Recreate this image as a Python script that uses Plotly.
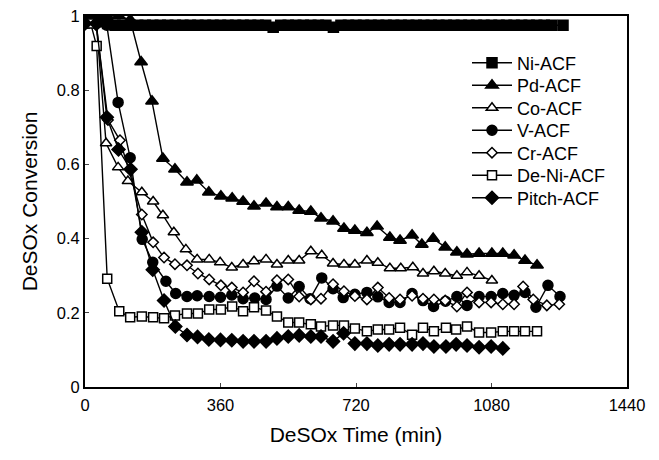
import plotly.graph_objects as go

# ---- data ----
ni_x = [0, 10, 20, 30, 40, 50, 60, 80, 100, 120, 140, 160, 180, 200, 220, 240, 260, 280, 300, 320,
        340, 360, 380, 400, 420, 440, 460, 480, 500, 520, 540, 560, 580, 600, 620, 640, 660, 680,
        700, 720, 740, 760, 780, 800, 820, 840, 860, 880, 900, 920, 940, 960, 980, 1000, 1020,
        1040, 1060, 1080, 1100, 1120, 1140, 1160, 1180, 1200, 1220, 1240, 1270]
ni_y = [0.99, 0.99, 0.99, 0.99, 0.985, 0.985, 0.98, 0.975, 0.975, 0.975, 0.975, 0.975, 0.975, 0.975,
        0.975, 0.975, 0.975, 0.975, 0.975, 0.975, 0.975, 0.975, 0.975, 0.975, 0.975, 0.975, 0.975,
        0.975, 0.97, 0.975, 0.975, 0.975, 0.975, 0.975, 0.975, 0.975, 0.97, 0.975, 0.975, 0.975,
        0.975, 0.975, 0.975, 0.975, 0.975, 0.975, 0.975, 0.975, 0.975, 0.975, 0.975, 0.975, 0.975,
        0.975, 0.975, 0.975, 0.975, 0.975, 0.975, 0.975, 0.975, 0.975, 0.975, 0.975, 0.975, 0.975,
        0.975]

pd_x = [0, 30, 58, 90, 120, 149, 178, 207, 239, 271, 297, 329, 361, 391, 420, 449, 481, 510, 540,
        569, 600, 627, 659, 688, 717, 749, 776, 810, 837, 869, 895, 925, 957, 988, 1015, 1047,
        1081, 1110, 1140, 1169, 1201]
pd_y = [0.98, 0.99, 1.0, 1.0, 0.99, 0.876, 0.77, 0.616, 0.587, 0.552, 0.557, 0.525, 0.514, 0.509,
        0.50, 0.487, 0.495, 0.485, 0.485, 0.476, 0.473, 0.455, 0.447, 0.427, 0.422, 0.416, 0.433,
        0.403, 0.395, 0.409, 0.384, 0.400, 0.377, 0.363, 0.358, 0.360, 0.360, 0.360, 0.355, 0.341,
        0.328]

co_x = [0, 30, 56, 88, 114, 151, 181, 207, 236, 268, 298, 330, 359, 390, 420, 449, 481, 510, 540,
        569, 600, 629, 659, 688, 717, 749, 778, 810, 839, 871, 898, 927, 957, 988, 1015, 1047, 1081]
co_y = [0.98, 0.98, 0.657, 0.592, 0.555, 0.525, 0.50, 0.463, 0.417, 0.371, 0.344, 0.344, 0.336,
        0.322, 0.330, 0.339, 0.344, 0.330, 0.341, 0.341, 0.366, 0.355, 0.333, 0.330, 0.330, 0.341,
        0.335, 0.320, 0.320, 0.323, 0.306, 0.312, 0.306, 0.300, 0.309, 0.300, 0.287]

v_x = [0, 30, 58, 88, 120, 152, 180, 215, 241, 271, 298, 330, 360, 390, 420, 451, 481, 510, 540,
       569, 598, 629, 659, 686, 717, 749, 778, 808, 837, 869, 898, 926, 958, 988, 1015, 1047, 1079,
       1110, 1140, 1169, 1198, 1230, 1262]
v_y = [0.98, 0.98, 0.975, 0.767, 0.618, 0.398, 0.336, 0.285, 0.252, 0.244, 0.246, 0.244, 0.242,
       0.248, 0.238, 0.240, 0.236, 0.272, 0.240, 0.271, 0.238, 0.294, 0.265, 0.241, 0.250, 0.255,
       0.243, 0.228, 0.228, 0.252, 0.233, 0.217, 0.231, 0.244, 0.220, 0.244, 0.244, 0.252, 0.247,
       0.255, 0.215, 0.274, 0.244]

cr_x = [0, 30, 61, 93, 151, 181, 210, 239, 271, 300, 330, 361, 390, 420, 449, 481, 510, 540, 569,
        600, 627, 659, 688, 717, 749, 778, 808, 837, 869, 898, 927, 957, 988, 1015, 1047, 1079,
        1110, 1140, 1164, 1191, 1227, 1260]
cr_y = [0.98, 0.975, 0.72, 0.665, 0.465, 0.39, 0.349, 0.331, 0.328, 0.306, 0.290, 0.274, 0.268,
        0.255, 0.285, 0.257, 0.288, 0.290, 0.244, 0.236, 0.238, 0.277, 0.258, 0.245, 0.236, 0.268,
        0.240, 0.236, 0.246, 0.238, 0.236, 0.233, 0.217, 0.255, 0.228, 0.228, 0.223, 0.223, 0.271,
        0.236, 0.220, 0.223]

deni_x = [0, 15, 31, 59, 91, 120, 151, 181, 210, 239, 271, 300, 330, 361, 391, 420, 449, 481, 510,
          540, 569, 600, 627, 659, 688, 717, 749, 778, 808, 837, 869, 898, 927, 959, 986, 1015,
          1047, 1079, 1110, 1140, 1169, 1201]
deni_y = [0.98, 0.98, 0.919, 0.292, 0.204, 0.188, 0.190, 0.188, 0.185, 0.193, 0.198, 0.198, 0.209,
          0.209, 0.217, 0.204, 0.215, 0.206, 0.190, 0.174, 0.174, 0.169, 0.163, 0.166, 0.166, 0.158,
          0.150, 0.155, 0.155, 0.160, 0.141, 0.160, 0.150, 0.160, 0.155, 0.163, 0.147, 0.147, 0.150,
          0.150, 0.150, 0.150]

pitch_x = [0, 30, 58, 89, 121, 151, 180, 210, 240, 271, 299, 329, 360, 390, 420, 449, 481, 510,
           540, 569, 600, 627, 659, 687, 717, 749, 778, 808, 837, 869, 898, 927, 959, 986, 1015,
           1047, 1079, 1110]
pitch_y = [0.98, 0.98, 0.727, 0.640, 0.587, 0.417, 0.316, 0.233, 0.163, 0.140, 0.135, 0.128, 0.127,
           0.126, 0.123, 0.123, 0.123, 0.131, 0.136, 0.139, 0.136, 0.136, 0.123, 0.145, 0.117, 0.117,
           0.112, 0.115, 0.115, 0.115, 0.117, 0.109, 0.109, 0.115, 0.112, 0.107, 0.109, 0.104]

x_ticks = [0, 360, 720, 1080, 1440]
y_ticks = [0, 0.2, 0.4, 0.6, 0.8, 1]
y_tick_text = ["0", "0.2", "0.4", "0.6", "0.8", "1"]

series = [
    ("Ni-ACF", ni_x, ni_y, "square", "black", 10),
    ("Pd-ACF", pd_x, pd_y, "triangle-up", "black", 11),
    ("Co-ACF", co_x, co_y, "triangle-up", "white", 10),
    ("V-ACF", v_x, v_y, "circle", "black", 10),
    ("Cr-ACF", cr_x, cr_y, "diamond", "white", 8),
    ("De-Ni-ACF", deni_x, deni_y, "square", "white", 9),
    ("Pitch-ACF", pitch_x, pitch_y, "diamond", "black", 10),
]

FONT = "Arial, Liberation Sans, sans-serif"

# plot area in pixels: x 85..627, y 16..387; legend rows centred every 22.5 px from y=63
W, H = 659, 460
ML, MR, MT, MB = 85, 32, 16, 73
plot_h = H - MT - MB
legend_left_px = 467
legend_top_row_px = 63
legend_row_step = 22.5

fig = go.Figure()
layout_legends = {}
for i, (name, xs, ys, sym, fill, size) in enumerate(series):
    key = "legend" if i == 0 else f"legend{i + 1}"
    fig.add_trace(go.Scatter(
        x=xs, y=ys, name=name, mode="lines+markers", legend=key,
        line=dict(color="black", width=1.4),
        marker=dict(symbol=sym, color=fill, size=size,
                    line=dict(color="black", width=1.5)),
    ))
    yc = legend_top_row_px + i * legend_row_step
    layout_legends[key] = dict(
        x=(legend_left_px - ML) / (W - ML - MR),
        y=(H - MB - yc) / plot_h,
        xanchor="left", yanchor="middle",
        bgcolor="rgba(0,0,0,0)", borderwidth=0,
        font=dict(size=18, family=FONT, color="black"),
        itemwidth=40,
    )

fig.update_layout(
    width=W, height=H,
    margin=dict(l=ML, r=MR, t=MT, b=MB, autoexpand=False),
    paper_bgcolor="white", plot_bgcolor="white",
    font=dict(family=FONT, size=16.5, color="black"),
    showlegend=True,
    xaxis=dict(range=[0, 1440], tickvals=x_ticks, ticks="inside", ticklen=4,
               showline=True, linecolor="black", linewidth=1.8, mirror=True,
               showgrid=False, zeroline=False, tickfont=dict(size=16.5),
               ticklabelstandoff=2,
               title=dict(text="DeSOx Time (min)", font=dict(size=21), standoff=15)),
    yaxis=dict(range=[0, 1], tickvals=y_ticks, ticktext=y_tick_text, ticks="inside", ticklen=4,
               showline=True, linecolor="black", linewidth=1.8, mirror=True,
               showgrid=False, zeroline=False, tickfont=dict(size=16.5),
               title=dict(text="DeSOx Conversion", font=dict(size=21), standoff=14)),
    **layout_legends,
)

fig.write_html("out.html",
               config={"displayModeBar": False},
               post_script="document.body.style.margin='0';document.body.style.padding='0';")
